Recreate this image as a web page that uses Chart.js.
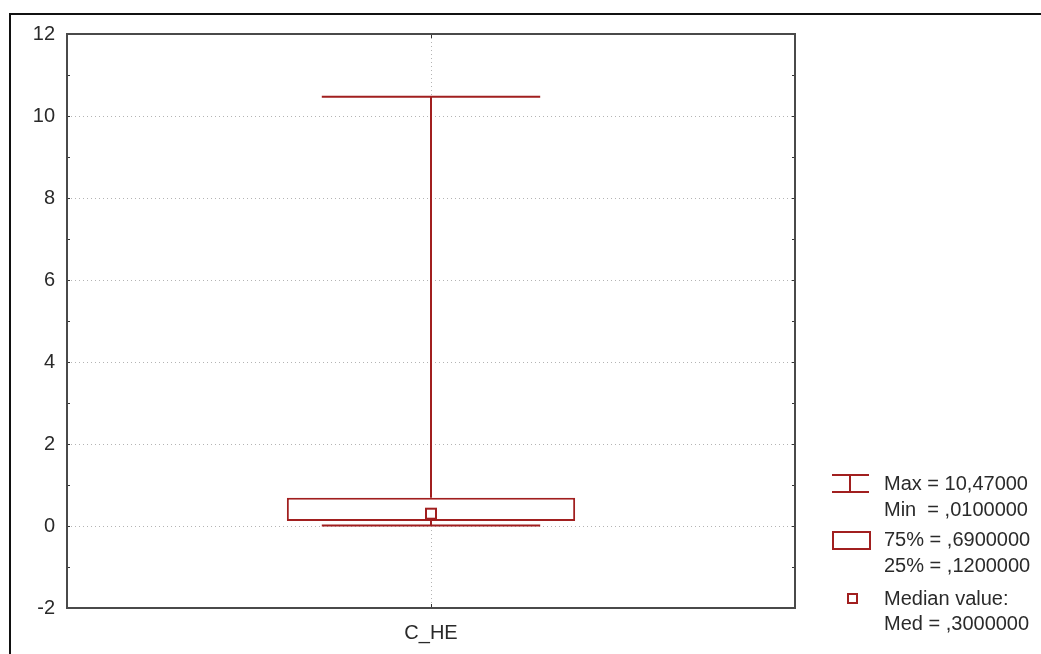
<!DOCTYPE html>
<html>
<head>
<meta charset="utf-8">
<script src="https://cdn.jsdelivr.net/npm/chart.js@4.4.1/dist/chart.umd.min.js"></script>
<style>
  html, body { margin: 0; padding: 0; background: #fff; }
  #chart { display: block; }
</style>
</head>
<body>
<canvas id="chart" width="1041" height="654"></canvas>
<script>
// =====================
// Data
// =====================

const categories = ['C_HE'];
const maxValues = [10.47];
const minValues = [0.01];
const q3Values = [0.69];
const q1Values = [0.12];
const medianValues = [0.30];

const yMin = -2;
const yMax = 12;

const legendLines = [
  'Max = 10,47000',
  'Min  = ,0100000',
  '75% = ,6900000',
  '25% = ,1200000',
  'Median value:',
  'Med = ,3000000'
];

// =====================
// Styles
// =====================

const boxColor = '#a11f1f';
const textColor = '#2a2a2a';
const gridColor = '#b4b4b4';
const axisFont = { family: '"Liberation Sans", Arial, sans-serif', size: 20 };

// =====================
// Box plot plugin
// =====================

const boxPlotPlugin = {
  id: 'boxPlot',
  beforeDraw(chart) {
    const ctx = chart.ctx;
    ctx.save();
    ctx.fillStyle = '#fff';
    ctx.fillRect(0, 0, chart.width, chart.height);
    // outer frame
    ctx.strokeStyle = '#111';
    ctx.lineWidth = 2;
    ctx.strokeRect(10, 14, chart.width + 20, chart.height + 20);
    ctx.restore();
  },
  afterDatasetsDraw(chart) {
    const ctx = chart.ctx;
    const x = chart.scales.x;
    const y = chart.scales.y;
    const catWidth = chart.chartArea.width / categories.length;

    ctx.save();
    ctx.strokeStyle = boxColor;
    ctx.lineWidth = 2;

    categories.forEach((c, i) => {
      const cx = Math.round(x.getPixelForValue(i));
      const capHalf = catWidth * 0.3 / 2;
      const yMaxPx = y.getPixelForValue(maxValues[i]);
      const yMinPx = y.getPixelForValue(minValues[i]);
      const yQ3 = y.getPixelForValue(q3Values[i]);
      const yQ1 = y.getPixelForValue(q1Values[i]);
      const yMed = y.getPixelForValue(medianValues[i]);

      ctx.beginPath();
      // upper whisker
      ctx.moveTo(cx, yMaxPx);
      ctx.lineTo(cx, yQ3);
      // lower whisker
      ctx.moveTo(cx, yQ1);
      ctx.lineTo(cx, yMinPx);
      // caps
      ctx.moveTo(cx - capHalf, yMaxPx);
      ctx.lineTo(cx + capHalf, yMaxPx);
      ctx.moveTo(cx - capHalf, yMinPx);
      ctx.lineTo(cx + capHalf, yMinPx);
      ctx.stroke();

      // median marker
      ctx.fillStyle = '#fff';
      ctx.fillRect(cx - 5, yMed - 5, 10, 10);
      ctx.strokeRect(cx - 5, yMed - 5, 10, 10);
    });
    ctx.restore();
  },
  afterDraw(chart) {
    const ctx = chart.ctx;
    const area = chart.chartArea;
    const x = chart.scales.x;
    const y = chart.scales.y;

    ctx.save();
    // inner tick marks
    ctx.strokeStyle = '#333';
    ctx.lineWidth = 1;
    ctx.beginPath();
    for (let v = yMin + 1; v < yMax; v++) {
      const py = Math.round(y.getPixelForValue(v)) + 0.5;
      ctx.moveTo(area.left, py);
      ctx.lineTo(area.left + 3, py);
      ctx.moveTo(area.right, py);
      ctx.lineTo(area.right - 3, py);
    }
    categories.forEach((c, i) => {
      const px = Math.round(x.getPixelForValue(i)) + 0.5;
      ctx.moveTo(px, area.bottom);
      ctx.lineTo(px, area.bottom - 4);
      ctx.moveTo(px, area.top);
      ctx.lineTo(px, area.top + 4);
    });
    ctx.stroke();

    // plot border
    ctx.strokeStyle = '#4a4a4a';
    ctx.lineWidth = 2;
    ctx.strokeRect(area.left, area.top, area.width, area.height);

    // legend symbols
    ctx.strokeStyle = boxColor;
    ctx.lineWidth = 2;
    ctx.beginPath();
    ctx.moveTo(832, 475);
    ctx.lineTo(869, 475);
    ctx.moveTo(832, 492);
    ctx.lineTo(869, 492);
    ctx.moveTo(850, 475);
    ctx.lineTo(850, 492);
    ctx.stroke();
    ctx.strokeRect(833, 532, 37, 17);
    ctx.strokeRect(848, 594, 9, 9);

    // legend text
    ctx.fillStyle = textColor;
    ctx.font = '20px "Liberation Sans", Arial, sans-serif';
    ctx.textBaseline = 'middle';
    ctx.textAlign = 'left';
    const rows = [484, 510, 540, 566, 599, 624];
    legendLines.forEach((t, i) => ctx.fillText(t, 884, rows[i]));
    ctx.restore();
  }
};

// =====================
// Chart
// =====================

const ctx = document.getElementById('chart');

new Chart(ctx, {
  type: 'bar',
  data: {
    labels: categories,
    datasets: [{
      data: categories.map((c, i) => [q1Values[i], q3Values[i]]),
      backgroundColor: 'rgba(255,255,255,1)',
      borderColor: boxColor,
      borderWidth: 2,
      borderSkipped: false,
      barPercentage: 0.396,
      categoryPercentage: 1
    }]
  },
  options: {
    responsive: false,
    animation: false,
    devicePixelRatio: 1,
    layout: { padding: { left: 0, top: 34, right: 246, bottom: 0 } },
    plugins: {
      legend: { display: false },
      tooltip: { enabled: false }
    },
    scales: {
      x: {
        offset: true,
        grid: { offset: false, color: gridColor, lineWidth: 1, drawTicks: false },
        border: { display: false, dash: [1, 3] },
        ticks: { color: textColor, font: axisFont, padding: 13 },
        afterFit: s => { s.height = 46; }
      },
      y: {
        min: yMin,
        max: yMax,
        ticks: {
          stepSize: 1,
          color: textColor,
          font: axisFont,
          padding: 12,
          callback: v => (v % 2 === 0 ? v : '')
        },
        grid: {
          drawTicks: false,
          lineWidth: 1,
          color: c => {
            const v = c.tick ? c.tick.value : 0;
            return (v % 2 !== 0 || v === yMin || v === yMax) ? 'rgba(0,0,0,0)' : gridColor;
          }
        },
        border: { display: false, dash: [1, 3] },
        afterFit: s => { s.width = 67; }
      }
    }
  },
  plugins: [boxPlotPlugin]
});
</script>
</body>
</html>
